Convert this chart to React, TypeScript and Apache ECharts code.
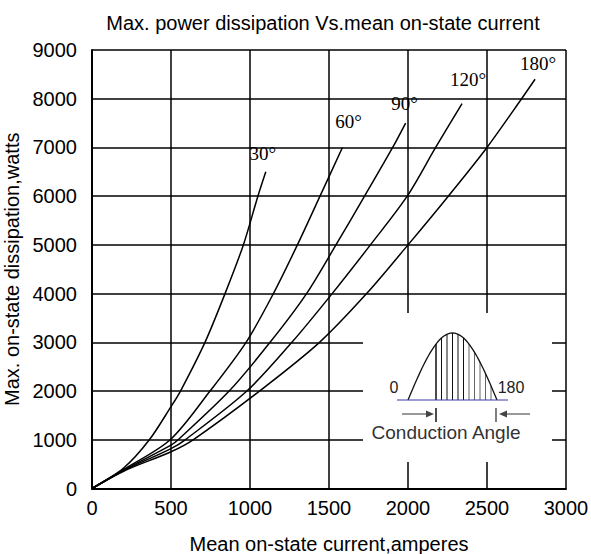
import React, { useEffect, useRef } from "react";
import * as echarts from "echarts";

const titleText = "Max. power dissipation Vs.mean on-state current";
const xName = "Mean on-state current,amperes";
const yName = "Max. on-state dissipation,watts";
const insetCaption = "Conduction Angle";

const seriesNames = ["30°", "60°", "90°", "120°", "180°"];

const curve30: number[][] = [
  [0, 0], [200, 420], [363, 1000], [500, 1680], [560, 2000], [715, 3000],
  [842, 4000], [958, 5000], [1050, 6000], [1100, 6500],
];
const curve60: number[][] = [
  [0, 0], [200, 390], [495, 1000], [747, 2000], [975, 3000], [1148, 4000],
  [1300, 5000], [1443, 6000], [1585, 7000],
];
const curve90: number[][] = [
  [0, 0], [200, 375], [500, 890], [545, 1000], [868, 2000], [1127, 3000],
  [1358, 4000], [1544, 5000], [1725, 6000], [1903, 7000], [1985, 7500],
];
const curve120: number[][] = [
  [0, 0], [200, 365], [500, 820], [590, 1000], [980, 2000], [1265, 3000],
  [1520, 4000], [1762, 5000], [1995, 6000], [2175, 7000], [2342, 7900],
];
const curve180: number[][] = [
  [0, 0], [200, 355], [500, 755], [640, 1000], [1060, 2000], [1440, 3000],
  [1738, 4000], [2000, 5000], [2255, 6000], [2500, 7000], [2719, 8000], [2804, 8400],
];
const curves = [curve30, curve60, curve90, curve120, curve180];

// label offsets (px) relative to the end of each curve
const labelOffsets: number[][] = [[-3, -18], [6, -26], [-1, -20], [6, -24], [3, -16]];

const SANS = "Liberation Sans, Arial, sans-serif";
const SERIF = "Liberation Serif, Times New Roman, serif";

function buildInset(): any[] {
  const x0 = 408, x1 = 497, base = 400, amp = 67;
  const yAt = (x: number) => base - amp * Math.sin(Math.PI * (x - x0) / (x1 - x0));
  const pts: number[][] = [];
  for (let i = 0; i <= 40; i++) {
    const x = x0 + (x1 - x0) * i / 40;
    pts.push([x, yAt(x)]);
  }
  const els: any[] = [];
  els.push({ type: "rect", shape: { x: 363, y: 313, width: 189, height: 149 }, style: { fill: "#fff" }, z: 100 });
  const hatchXs = [436, 441.5, 447, 452.5, 458, 463.5, 469, 474.5, 480, 485.5, 491];
  hatchXs.forEach((hx, i) => {
    els.push({
      type: "line",
      shape: { x1: hx, y1: base, x2: hx, y2: yAt(hx) },
      style: { stroke: i < 6 ? "#111" : "#666", lineWidth: i === 0 ? 1.5 : 1 },
      z: 101,
    });
  });
  els.push({ type: "polyline", shape: { points: pts }, style: { stroke: "#111", lineWidth: 1.3, fill: null }, z: 102 });
  els.push({ type: "line", shape: { x1: 397, y1: base, x2: 508, y2: base }, style: { stroke: "#3a3aa8", lineWidth: 1 }, z: 102 });
  els.push({ type: "line", shape: { x1: 436, y1: 408, x2: 436, y2: 422 }, style: { stroke: "#111", lineWidth: 1.5 }, z: 102 });
  els.push({ type: "line", shape: { x1: 496, y1: 408, x2: 496, y2: 422 }, style: { stroke: "#555", lineWidth: 1.5 }, z: 102 });
  els.push({ type: "line", shape: { x1: 402, y1: 414, x2: 428, y2: 414 }, style: { stroke: "#555", lineWidth: 1.2 }, z: 102 });
  els.push({ type: "polygon", shape: { points: [[434, 414], [426, 410.5], [426, 417.5]] }, style: { fill: "#444" }, z: 102 });
  els.push({ type: "line", shape: { x1: 530, y1: 414, x2: 506, y2: 414 }, style: { stroke: "#555", lineWidth: 1.2 }, z: 102 });
  els.push({ type: "polygon", shape: { points: [[499, 414], [507, 410.5], [507, 417.5]] }, style: { fill: "#444" }, z: 102 });
  els.push({ type: "text", x: 394, y: 387, style: { text: "0", fill: "#222", font: `16px ${SANS}`, align: "center", verticalAlign: "middle" }, z: 103 });
  els.push({ type: "text", x: 511, y: 387, style: { text: "180", fill: "#222", font: `16px ${SANS}`, align: "center", verticalAlign: "middle" }, z: 103 });
  els.push({ type: "text", x: 446, y: 432, style: { text: insetCaption, fill: "#333", font: `19px ${SANS}`, align: "center", verticalAlign: "middle" }, z: 103 });
  return els;
}

export default function App() {
  const ref = useRef<HTMLDivElement>(null);
  useEffect(() => {
    if (!ref.current) return;
    const chart = echarts.init(ref.current, undefined, { renderer: "svg" });
    const series = curves.map((c, si) => ({
      name: seriesNames[si],
      type: "line",
      smooth: 0.3,
      showSymbol: true,
      symbol: "circle",
      symbolSize: 0,
      lineStyle: { color: "#000", width: 1.5 },
      itemStyle: { color: "#000" },
      emphasis: { disabled: true },
      data: c.map((p, i) =>
        i === c.length - 1
          ? {
              value: p,
              label: {
                show: true,
                formatter: seriesNames[si],
                position: "inside",
                offset: labelOffsets[si],
                fontFamily: SERIF,
                fontSize: 19,
                color: "#000",
              },
            }
          : { value: p }
      ),
    }));
    chart.setOption({
      animation: false,
      backgroundColor: "#fff",
      title: {
        text: titleText,
        left: 318,
        top: 8,
        textAlign: "center",
        textStyle: { fontSize: 20, fontWeight: "normal", color: "#000", fontFamily: SANS },
      },
      grid: { left: 92, right: 25, top: 50, bottom: 65.5, containLabel: false, outerBoundsMode: "none" },
      xAxis: {
        type: "value",
        min: 0,
        max: 3000,
        interval: 500,
        name: xName,
        nameLocation: "middle",
        nameGap: 45,
        nameTextStyle: { fontSize: 20, color: "#000", fontFamily: SANS },
        axisLine: { lineStyle: { color: "#000", width: 2 } },
        axisTick: { show: false },
        axisLabel: { fontSize: 20, color: "#000", margin: 9, fontFamily: SANS, formatter: (v: number) => String(v) },
        splitLine: { show: true, lineStyle: { color: "#000", width: 1.5 } },
      },
      yAxis: {
        type: "value",
        min: 0,
        max: 9000,
        interval: 1000,
        name: yName,
        nameLocation: "middle",
        nameGap: 67,
        nameTextStyle: { fontSize: 20, color: "#000", fontFamily: SANS },
        axisLine: { show: true, lineStyle: { color: "#000", width: 2 } },
        axisTick: { show: false },
        axisLabel: { fontSize: 20, color: "#000", margin: 15, fontFamily: SANS, formatter: (v: number) => String(v) },
        splitLine: { show: true, lineStyle: { color: "#000", width: 1.5 } },
      },
      series,
      graphic: { elements: buildInset() },
    });
    return () => chart.dispose();
  }, []);
  return (
    <div
      ref={ref}
      style={{ position: "fixed", left: 0, top: 0, width: 591, height: 554, background: "#fff" }}
    />
  );
}
